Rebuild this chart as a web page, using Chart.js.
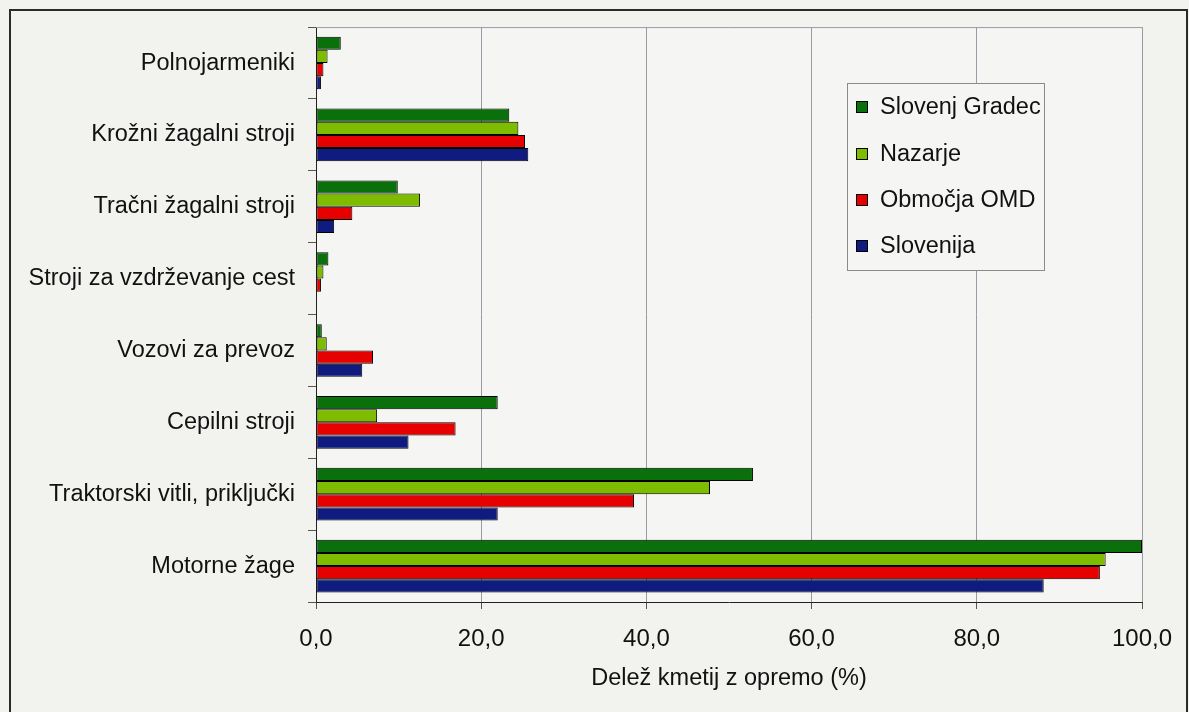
<!DOCTYPE html>
<html>
<head>
<meta charset="utf-8">
<script src="https://cdn.jsdelivr.net/npm/chart.js@4.4.1/dist/chart.umd.min.js"></script>
<style>
  html, body { margin: 0; padding: 0; background: #f2f2ef; }
  #wrap { position: relative; width: 1189px; height: 712px; }
  canvas { display: block; }
</style>
</head>
<body>
<div id="wrap"><canvas id="c" width="1189" height="712"></canvas></div>
<script>
const categories = [
  'Polnojarmeniki',
  'Krožni žagalni stroji',
  'Tračni žagalni stroji',
  'Stroji za vzdrževanje cest',
  'Vozovi za prevoz',
  'Cepilni stroji',
  'Traktorski vitli, priključki',
  'Motorne žage'
];
const seriesNames = ['Slovenj Gradec', 'Nazarje', 'Območja OMD', 'Slovenija'];
const slovenjGradec = [3.0, 23.4, 9.9, 1.5, 0.7, 22.0, 52.9, 100.0];
const nazarje       = [1.4, 24.5, 12.6, 0.9, 1.3, 7.4, 47.7, 95.6];
const obmocjaOMD    = [0.9, 25.3, 4.4, 0.6, 6.9, 16.9, 38.5, 94.9];
const slovenija     = [0.6, 25.7, 2.2, 0.0, 5.6, 11.2, 22.0, 88.1];
const xTickLabels = ['0,0', '20,0', '40,0', '60,0', '80,0', '100,0'];
const xTitle = 'Delež kmetij z opremo (%)';

const colors = ['#0a700c', '#7dbc00', '#e60000', '#101b80'];
const seriesData = [slovenjGradec, nazarje, obmocjaOMD, slovenija];
const FONT = '"Liberation Sans", Arial, sans-serif';

const framePlugin = {
  id: 'frame',
  beforeDraw(chart) {
    const ctx = chart.ctx;
    const a = chart.chartArea;
    ctx.save();
    ctx.fillStyle = '#f5f5f3';
    ctx.fillRect(a.left, a.top, a.right - a.left, a.bottom - a.top);
    ctx.restore();
  },
  afterDraw(chart) {
    const ctx = chart.ctx;
    const a = chart.chartArea;
    ctx.save();
    // outer frame
    ctx.strokeStyle = '#2a2a2a';
    ctx.lineWidth = 2;
    ctx.beginPath();
    ctx.moveTo(10, 712);
    ctx.lineTo(10, 10);
    ctx.lineTo(1187, 10);
    ctx.lineTo(1187, 712);
    ctx.stroke();
    // plot area top/right border
    ctx.strokeStyle = '#9a9aa4';
    ctx.lineWidth = 1;
    ctx.beginPath();
    ctx.moveTo(a.left, a.top + 0.5);
    ctx.lineTo(a.right + 0.5, a.top + 0.5);
    ctx.lineTo(a.right + 0.5, a.bottom);
    ctx.stroke();
    // legend box
    const bx = 847, by = 83, bw = 197, bh = 187;
    ctx.fillStyle = '#f5f5f3';
    ctx.fillRect(bx, by, bw, bh);
    ctx.strokeStyle = '#8a8a90';
    ctx.strokeRect(bx + 0.5, by + 0.5, bw, bh);
    const rows = [107, 154, 200, 246];
    ctx.font = '23.5px ' + FONT;
    ctx.textBaseline = 'middle';
    ctx.textAlign = 'left';
    chart.data.datasets.forEach((ds, i) => {
      const y = rows[i];
      ctx.fillStyle = ds.backgroundColor;
      ctx.fillRect(856, y - 6, 12, 12);
      ctx.strokeStyle = '#000';
      ctx.strokeRect(856.5, y - 5.5, 11, 11);
      ctx.fillStyle = '#111';
      ctx.fillText(ds.label, 880, y + 1);
    });
    ctx.restore();
  }
};

new Chart(document.getElementById('c'), {
  type: 'bar',
  data: {
    labels: categories,
    datasets: seriesNames.map((name, i) => ({
      label: name,
      data: seriesData[i],
      backgroundColor: colors[i],
      borderColor: '#000',
      borderWidth: 1,
      borderSkipped: false,
      categoryPercentage: 0.733,
      barPercentage: 1.0
    }))
  },
  options: {
    indexAxis: 'y',
    responsive: false,
    animation: false,
    layout: { padding: { left: 10, top: 25, right: 47, bottom: 15 } },
    plugins: { legend: { display: false }, tooltip: { enabled: false } },
    scales: {
      x: {
        min: 0, max: 100,
        ticks: {
          stepSize: 20,
          color: '#111',
          font: { family: FONT, size: 24 },
          padding: 16,
          maxRotation: 0,
          callback: (v, i) => xTickLabels[i]
        },
        grid: { color: '#9a9aa4', lineWidth: 1, tickLength: 7, tickColor: '#555' },
        border: { color: '#222', width: 1 },
        title: {
          display: true, text: xTitle, color: '#111',
          font: { family: FONT, size: 23.5 },
          padding: { top: 16, bottom: 4 }
        },
        afterFit: (s) => { s.height = 95; }
      },
      y: {
        ticks: {
          color: '#111',
          font: { family: FONT, size: 23.5 },
          padding: 13,
          autoSkip: false
        },
        grid: { drawOnChartArea: false, offset: true, tickLength: 8, tickColor: '#555' },
        border: { color: '#222', width: 1 },
        afterFit: (s) => { s.width = 306; }
      }
    }
  },
  plugins: [framePlugin]
});
</script>
</body>
</html>
